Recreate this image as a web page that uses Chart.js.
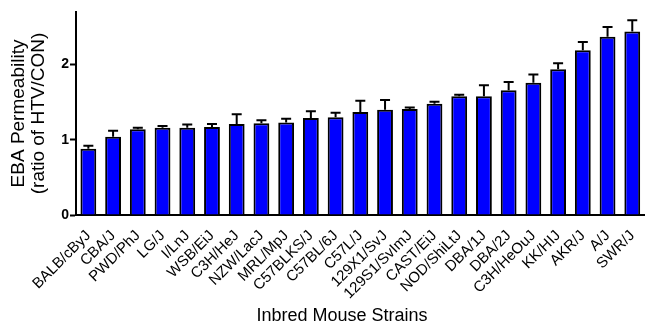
<!DOCTYPE html>
<html>
<head>
<meta charset="utf-8">
<script src="https://cdn.jsdelivr.net/npm/chart.js@4/dist/chart.umd.min.js"></script>
<style>
  html, body { margin: 0; padding: 0; background: #fff; }
  #wrap { width: 657px; height: 324px; position: relative; }
</style>
</head>
<body>
<div id="wrap"><canvas id="graficoEBA"></canvas></div>
<script>
const strains = [
  "BALB/cByJ", "CBA/J", "PWD/PhJ", "LG/J", "I/LnJ", "WSB/EiJ", "C3H/HeJ",
  "NZW/LacJ", "MRL/MpJ", "C57BLKS/J", "C57BL/6J", "C57L/J", "129X1/SvJ",
  "129S1/SvImJ", "CAST/EiJ", "NOD/ShiLtJ", "DBA/1J", "DBA/2J", "C3H/HeOuJ",
  "KK/HIJ", "AKR/J", "A/J", "SWR/J"
];
const ebaMedia = [
  0.88, 1.04, 1.14, 1.16, 1.16, 1.17, 1.21, 1.22, 1.23, 1.29, 1.30, 1.37,
  1.40, 1.41, 1.48, 1.58, 1.58, 1.66, 1.76, 1.94, 2.19, 2.37, 2.44
];
const ebaSem = [
  0.04, 0.08, 0.02, 0.025, 0.045, 0.04, 0.13, 0.04, 0.05, 0.09, 0.06, 0.15,
  0.13, 0.02, 0.025, 0.02, 0.145, 0.11, 0.11, 0.08, 0.11, 0.13, 0.15
];
const yTicks = [0, 1, 2];
const yMax = 2.7;

const FONT = "'Liberation Sans', Arial, Helvetica, sans-serif";

// barras de error (solo hacia arriba) usando la escala y
const errorBars = {
  id: "errorBars",
  afterDatasetsDraw(chart) {
    const { ctx, scales } = chart;
    const meta = chart.getDatasetMeta(0);
    ctx.save();
    ctx.strokeStyle = "#000";
    ctx.lineWidth = 2;
    meta.data.forEach((bar, i) => {
      const top = scales.y.getPixelForValue(ebaMedia[i] + ebaSem[i]);
      ctx.beginPath();
      ctx.moveTo(bar.x, bar.y);
      ctx.lineTo(bar.x, top);
      ctx.moveTo(bar.x - 5, top);
      ctx.lineTo(bar.x + 5, top);
      ctx.stroke();
    });
    ctx.restore();
  }
};

// titulo del eje x
const tituloX = {
  id: "tituloX",
  afterDraw(chart) {
    const { ctx } = chart;
    ctx.save();
    ctx.fillStyle = "#000";
    ctx.font = "18px " + FONT;
    ctx.textAlign = "center";
    ctx.textBaseline = "middle";
    ctx.fillText("Inbred Mouse Strains", 342, 316);
    ctx.restore();
  }
};

new Chart(document.getElementById("graficoEBA"), {
  type: "bar",
  data: {
    labels: strains,
    datasets: [
      {
        label: "EBA",
        data: ebaMedia,
        backgroundColor: "#0000ff",
        borderColor: "#000",
        borderWidth: 2,
        borderSkipped: "start",
        barPercentage: 0.64,
        categoryPercentage: 1
      }
    ]
  },
  options: {
    responsive: true,
    maintainAspectRatio: false,
    animation: false,
    layout: { padding: { top: 12, right: 0, left: 0, bottom: 0 } },
    plugins: {
      legend: { display: false },
      tooltip: { enabled: false }
    },
    scales: {
      x: {
        afterFit: (scale) => { scale.height = 109; },
        grid: { display: true, drawOnChartArea: false, drawTicks: false },
        border: { display: true, color: "#000", width: 2 },
        ticks: {
          autoSkip: false,
          minRotation: 45,
          maxRotation: 45,
          padding: 12,
          color: "#000",
          font: { family: FONT, size: 15 }
        }
      },
      y: {
        min: 0,
        max: yMax,
        afterFit: (scale) => { scale.width = 76; },
        afterBuildTicks: (scale) => { scale.ticks = yTicks.map((v) => ({ value: v })); },
        grid: {
          display: true,
          drawOnChartArea: false,
          drawTicks: true,
          tickLength: 6,
          tickWidth: 2,
          tickColor: "#000"
        },
        border: { display: true, color: "#000", width: 2 },
        ticks: {
          padding: 1,
          color: "#000",
          font: { family: FONT, size: 14, weight: "bold" }
        },
        title: {
          display: true,
          text: ["EBA Permeability", "(ratio of HTV/CON)"],
          color: "#000",
          padding: { top: 9, bottom: 0 },
          font: { family: FONT, size: 19, lineHeight: 1.05 }
        }
      }
    }
  },
  plugins: [errorBars, tituloX]
});
</script>
</body>
</html>
